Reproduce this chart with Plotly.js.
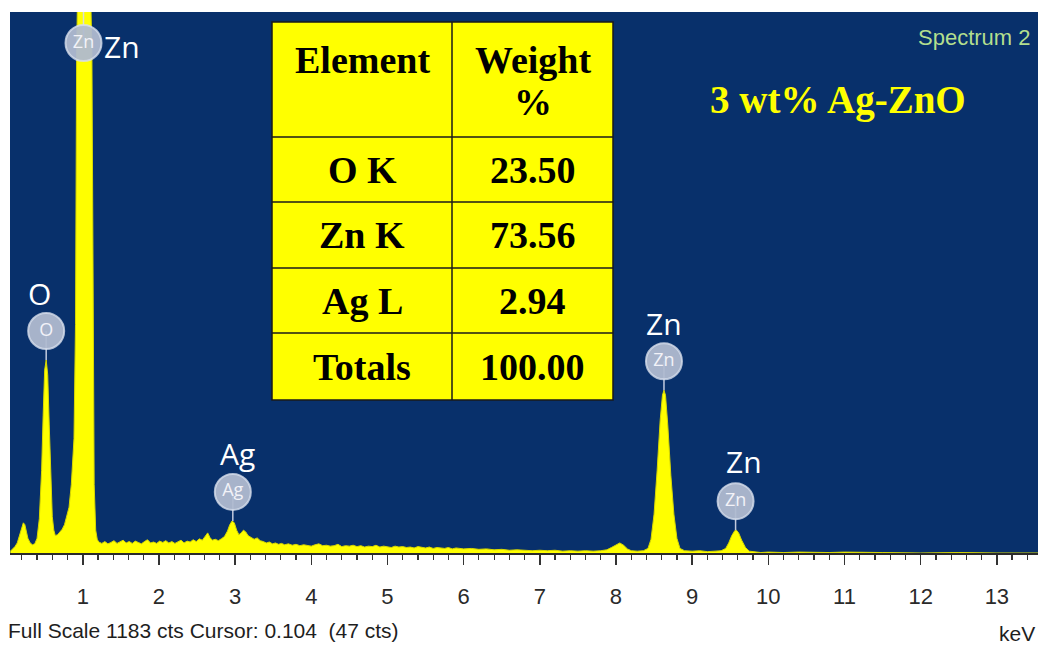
<!DOCTYPE html>
<html>
<head>
<meta charset="utf-8">
<script src="https://cdn.plot.ly/plotly-3.0.1.min.js"></script>
<style>html,body{margin:0;padding:0;background:#fff;}#chart{width:1042px;height:645px;}</style>
</head>
<body>
<div id="chart"></div>
<script>
// ---- Spectrum data (keV, counts) ----
const energyKeV = [0.05,0.08,0.11,0.14,0.17,0.20,0.22,0.24,0.26,0.28,0.31,0.34,0.37,0.40,0.43,0.46,0.48,0.50,0.52,0.54,0.56,0.58,0.60,0.62,0.64,0.67,0.70,0.73,0.76,0.79,0.82,0.85,0.885,0.905,0.92,0.935,1.00,1.10,1.12,1.135,1.15,1.17,1.19,1.21,1.25,1.29,1.33,1.37,1.41,1.45,1.49,1.53,1.57,1.61,1.65,1.69,1.73,1.77,1.81,1.85,1.89,1.93,1.97,2.01,2.05,2.09,2.13,2.17,2.21,2.25,2.29,2.33,2.37,2.41,2.45,2.49,2.53,2.57,2.61,2.64,2.67,2.70,2.74,2.78,2.82,2.86,2.90,2.93,2.96,2.99,3.02,3.05,3.08,3.11,3.14,3.17,3.21,3.25,3.29,3.33,3.37,3.41,3.45,3.49,3.53,3.57,3.61,3.65,3.70,3.75,3.80,3.85,3.90,3.95,4.00,4.05,4.10,4.15,4.20,4.25,4.30,4.35,4.40,4.45,4.50,4.55,4.60,4.65,4.70,4.75,4.80,4.85,4.90,4.95,5.00,5.05,5.10,5.15,5.20,5.25,5.30,5.35,5.40,5.45,5.50,5.55,5.60,5.65,5.70,5.75,5.80,5.85,5.90,5.95,6.00,6.10,6.20,6.30,6.40,6.50,6.60,6.70,6.80,6.90,7.00,7.10,7.20,7.30,7.40,7.50,7.60,7.70,7.80,7.88,7.94,8.00,8.05,8.10,8.15,8.20,8.28,8.36,8.42,8.46,8.50,8.54,8.58,8.61,8.63,8.65,8.68,8.72,8.76,8.80,8.84,8.90,9.00,9.10,9.20,9.30,9.38,9.44,9.48,9.52,9.56,9.58,9.61,9.65,9.70,9.75,9.82,9.90,10.0,10.2,10.4,10.6,10.8,11.0,11.2,11.5,12.0,12.5,13.0,13.54];
const countsCts = [4,8,14,22,40,60,66,62,48,32,22,18,20,32,75,180,300,400,422,390,280,150,80,50,38,40,46,52,62,80,100,150,250,500,1100,1250,1250,1250,1100,500,150,50,30,24,21,25,20,23,27,21,24,28,22,25,21,26,23,20,25,29,22,24,21,26,23,27,22,25,21,24,28,22,26,24,29,25,31,28,36,44,34,28,30,27,31,36,48,62,70,66,50,40,44,50,46,38,34,30,33,27,25,22,24,20,22,19,21,18,20,17,19,16,18,17,15,18,20,16,17,15,16,19,14,16,15,17,14,16,13,15,14,17,13,15,14,12,15,13,14,12,13,11,14,12,11,13,10,12,11,10,12,9,11,10,9,10,8,9,7,8,6,7,6,5,6,5,6,4,5,4,5,4,5,7,12,18,22,17,9,5,4,5,10,30,85,180,290,345,356,345,280,170,85,32,10,5,4,5,3,4,5,10,22,38,49,50,44,28,12,4,2,1,2,1,2,1,1,2,1,1,0,1,0,0];

// ---- Peak identifications ----
const peakNames    = ['O', 'Zn', 'Ag', 'Zn', 'Zn'];
const peakEnergies = [0.52, 1.01, 2.97, 8.63, 9.57];
const peakCounts   = [422, 1183, 70, 356, 50];

// ---- Quantification table ----
const tableHeader   = ['Element', 'Weight', '%'];
const tableElements = ['O K', 'Zn K', 'Ag L', 'Totals'];
const tableWeights  = [23.50, 73.56, 2.94, 100.00];

// ---- Texts ----
const sampleLabel   = '3 wt% Ag-ZnO';
const spectrumLabel = 'Spectrum 2';
const footerText    = 'Full Scale 1183 cts Cursor: 0.104  (47 cts)';
const unitText      = 'keV';
const xTicks        = [1,2,3,4,5,6,7,8,9,10,11,12,13];

// ---- Geometry helpers (pixel -> paper) ----
const W = 1042, H = 645;
const M = {l: 10, r: 4, t: 12, b: 92};
const plotW = W - M.l - M.r, plotH = H - M.t - M.b;
const px = x => (x - M.l) / plotW;
const py = y => (H - M.b - y) / plotH;
const yMax = 1183;
const ctsPerPx = yMax / plotH;

const badgeY = peakCounts.map(c => Math.min(c + 29 * ctsPerPx, yMax - 31 * ctsPerPx));
const labelShift = [[-7, 38], [38, -3], [5, 38], [0, 38], [8, 40]];

const stemX = [], stemY = [];
peakEnergies.forEach((e, i) => { stemX.push(e, e, null); stemY.push(peakCounts[i], badgeY[i], null); });

const traces = [
  {
    type: 'scatter', mode: 'lines', x: energyKeV, y: countsCts,
    fill: 'tozeroy', fillcolor: '#ffff00',
    line: {color: '#d8d800', width: 1, shape: 'linear'},
    hoverinfo: 'skip', showlegend: false
  },
  {
    type: 'scatter', mode: 'lines', x: stemX, y: stemY,
    line: {color: 'rgba(215,220,235,0.9)', width: 1.5},
    hoverinfo: 'skip', showlegend: false, cliponaxis: false
  },
  {
    type: 'scatter', mode: 'markers+text', x: peakEnergies, y: badgeY,
    text: peakNames, textposition: 'middle center',
    textfont: {family: 'Open Sans, sans-serif', size: 18, color: '#f2f2f8'},
    marker: {size: 36, color: 'rgba(176,186,208,0.95)', line: {color: 'rgba(215,222,236,0.8)', width: 2}},
    hoverinfo: 'skip', showlegend: false, cliponaxis: false
  }
];

const shapes = [];
const tb = {l: 272, r: 613, t: 22, b: 400, mid: 452, rows: [137, 202, 268, 333]};
shapes.push({type: 'rect', xref: 'paper', yref: 'paper', x0: px(tb.l), x1: px(tb.r), y0: py(tb.b), y1: py(tb.t),
  fillcolor: '#ffff00', line: {color: '#1a1a1a', width: 1.5}, layer: 'above'});
shapes.push({type: 'line', xref: 'paper', yref: 'paper', x0: px(tb.mid), x1: px(tb.mid), y0: py(tb.b), y1: py(tb.t),
  line: {color: '#1a1a1a', width: 1.5}, layer: 'above'});
tb.rows.forEach(r => shapes.push({type: 'line', xref: 'paper', yref: 'paper', x0: px(tb.l), x1: px(tb.r), y0: py(r), y1: py(r),
  line: {color: '#1a1a1a', width: 1.5}, layer: 'above'}));

const serifBold = {family: 'Liberation Serif, Times New Roman, serif', size: 38, color: '#000', weight: 700};
const annotations = [];
const colC1 = (tb.l + tb.mid) / 2, colC2 = (tb.mid + tb.r) / 2;
annotations.push({xref: 'paper', yref: 'paper', x: px(colC1), y: py(60), text: tableHeader[0], showarrow: false, font: serifBold, xanchor: 'center', yanchor: 'middle'});
annotations.push({xref: 'paper', yref: 'paper', x: px(colC2), y: py(60), text: tableHeader[1], showarrow: false, font: serifBold, xanchor: 'center', yanchor: 'middle'});
annotations.push({xref: 'paper', yref: 'paper', x: px(colC2), y: py(102), text: tableHeader[2], showarrow: false, font: serifBold, xanchor: 'center', yanchor: 'middle'});
const rowEdges = [tb.rows[0], tb.rows[1], tb.rows[2], tb.rows[3], tb.b];
tableElements.forEach((el, i) => {
  const yc = (rowEdges[i] + rowEdges[i + 1]) / 2;
  annotations.push({xref: 'paper', yref: 'paper', x: px(colC1), y: py(yc), text: el, showarrow: false, font: serifBold, xanchor: 'center', yanchor: 'middle'});
  annotations.push({xref: 'paper', yref: 'paper', x: px(colC2), y: py(yc), text: tableWeights[i].toFixed(2), showarrow: false, font: serifBold, xanchor: 'center', yanchor: 'middle'});
});

peakNames.forEach((n, i) => {
  annotations.push({xref: 'x', yref: 'y', x: peakEnergies[i], y: badgeY[i], text: n, showarrow: false,
    xshift: labelShift[i][0], yshift: labelShift[i][1],
    font: {family: 'Open Sans, sans-serif', size: 30, color: '#ffffff'}, xanchor: 'center', yanchor: 'middle'});
});

annotations.push({xref: 'paper', yref: 'paper', x: px(838), y: py(100), text: sampleLabel, showarrow: false,
  font: {family: 'Liberation Serif, Times New Roman, serif', size: 39, color: '#ffff00', weight: 700}, xanchor: 'center', yanchor: 'middle'});
annotations.push({xref: 'paper', yref: 'paper', x: px(1033), y: py(37), text: spectrumLabel, showarrow: false,
  font: {family: 'Liberation Sans, Arial, sans-serif', size: 22, color: '#b3df8e'}, xanchor: 'right', yanchor: 'middle'});
annotations.push({xref: 'paper', yref: 'paper', x: px(6), y: py(630), text: footerText, showarrow: false,
  font: {family: 'Liberation Sans, Arial, sans-serif', size: 21, color: '#1e1e1e'}, xanchor: 'left', yanchor: 'middle'});
annotations.push({xref: 'paper', yref: 'paper', x: px(1037), y: py(633), text: unitText, showarrow: false,
  font: {family: 'Liberation Sans, Arial, sans-serif', size: 21, color: '#1e1e1e'}, xanchor: 'right', yanchor: 'middle'});

const layout = {
  width: W, height: H,
  margin: {l: M.l, r: M.r, t: M.t, b: M.b, pad: 0},
  paper_bgcolor: '#ffffff', plot_bgcolor: '#08306b',
  showlegend: false,
  xaxis: {
    range: [0.045, 13.54], tickvals: xTicks, ticktext: xTicks.map(String),
    ticks: 'outside', ticklen: 10, tickwidth: 1.5, tickcolor: '#333',
    minor: {dtick: 0.2, tick0: 0, ticks: 'outside', ticklen: 5, tickwidth: 1.2, tickcolor: '#333', showgrid: false},
    showgrid: false, zeroline: false, showline: true, linecolor: '#2a2a2a', linewidth: 1.5,
    tickfont: {family: 'Liberation Sans, Arial, sans-serif', size: 22, color: '#2a2a2a'},
    ticklabelstandoff: 13, fixedrange: true
  },
  yaxis: {range: [0, yMax], visible: false, showgrid: false, zeroline: false, fixedrange: true},
  shapes: shapes,
  annotations: annotations
};

Plotly.newPlot('chart', traces, layout, {staticPlot: true, displayModeBar: false});
</script>
</body>
</html>
